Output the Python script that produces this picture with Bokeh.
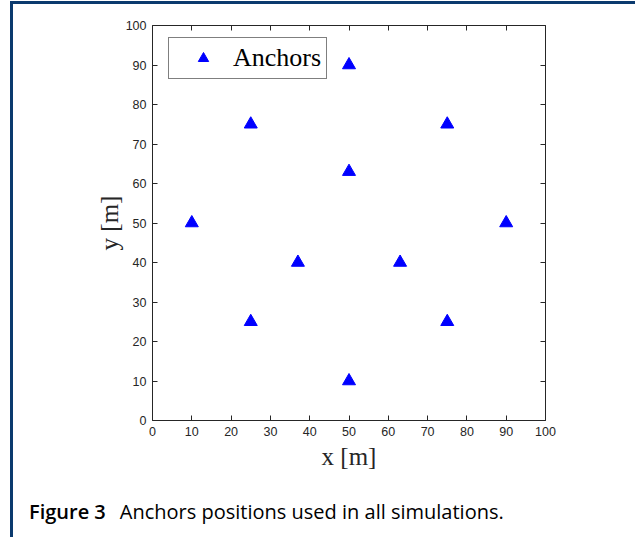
from bokeh.plotting import figure
from bokeh.models import LinearAxis, FixedTicker, Range1d, Div
from bokeh.layouts import column
from bokeh.embed import file_html
from bokeh.resources import INLINE

# Data: anchor positions (m)
anchor_x = [10, 25, 25, 37, 50, 50, 50, 63, 75, 75, 90]
anchor_y = [50, 25, 75, 40, 10, 63, 90, 40, 25, 75, 50]
x_ticks = [0, 10, 20, 30, 40, 50, 60, 70, 80, 90, 100]
y_ticks = [0, 10, 20, 30, 40, 50, 60, 70, 80, 90, 100]
series_name = "Anchors"
caption_bold = "Figure 3"
caption_text = "Anchors positions used in all simulations."

AX = "#262626"
W = 622
p = figure(width=W, height=470, x_range=Range1d(0, 100), y_range=Range1d(0, 100),
           output_backend="svg", toolbar_location=None, x_axis_type=None, y_axis_type=None,
           min_border_left=139, min_border_right=90, min_border_top=21, min_border_bottom=54)
p.grid.visible = False
p.outline_line_color = None
p.background_fill_color = "white"

def mk_axis(ticks, show_labels, label=None):
    a = LinearAxis(ticker=FixedTicker(ticks=ticks))
    a.axis_line_color = AX
    a.axis_line_width = 1
    a.major_tick_line_color = AX
    a.major_tick_in = 5
    a.major_tick_out = 0
    a.minor_tick_line_color = None
    a.major_label_text_font = "Liberation Sans"
    a.major_label_text_font_size = "12.5px"
    a.major_label_text_color = AX
    a.major_label_standoff = 6
    if not show_labels:
        a.major_label_text_font_size = "0px"
        a.major_label_text_color = None
        a.major_label_standoff = 0
    if label:
        a.axis_label = label
        a.axis_label_text_font = "Liberation Serif"
        a.axis_label_text_font_size = "25px"
        a.axis_label_text_font_style = "normal"
        a.axis_label_text_color = AX
    return a

xb = mk_axis(x_ticks, True, "x [m]")
xb.axis_label_standoff = 4
yl = mk_axis(y_ticks, True, "y [m]")
yl.axis_label_standoff = 0
xt = mk_axis(x_ticks, False)
yr = mk_axis(y_ticks, False)
p.add_layout(xb, "below")
p.add_layout(yl, "left")
p.add_layout(xt, "above")
p.add_layout(yr, "right")

p.scatter(anchor_x, anchor_y, marker="triangle", size=13, fill_color="#0000ff",
          line_color="#0000ff", legend_label=series_name)

lg = p.legend[0]
lg.location = (16, 341)
lg.label_text_font = "Liberation Serif"
lg.label_text_font_size = "26px"
lg.label_text_color = "black"
lg.border_line_color = "black"
lg.border_line_width = 1
lg.background_fill_alpha = 1
lg.padding = 5
lg.margin = 0
lg.glyph_width = 58
lg.glyph_height = 26
lg.label_standoff = 1
lg.label_height = 26

cap = Div(text='<b style="font-weight:600">%s</b><span style="margin-left:14px">%s</span>'
          % (caption_bold, caption_text), width=W, height=62,
          styles={"font-family": "Open Sans", "font-size": "20px", "color": "black",
                  "padding-top": "23px", "padding-left": "11px", "line-height": "20px",
                  "white-space": "nowrap"})

layout = column(p, cap, spacing=0,
                styles={"border-left": "3px solid #0b3a6e", "border-top": "3px solid #0b3a6e",
                        "margin-left": "10px", "margin-top": "1px"})

open("out.html", "w").write(file_html(layout, INLINE))
